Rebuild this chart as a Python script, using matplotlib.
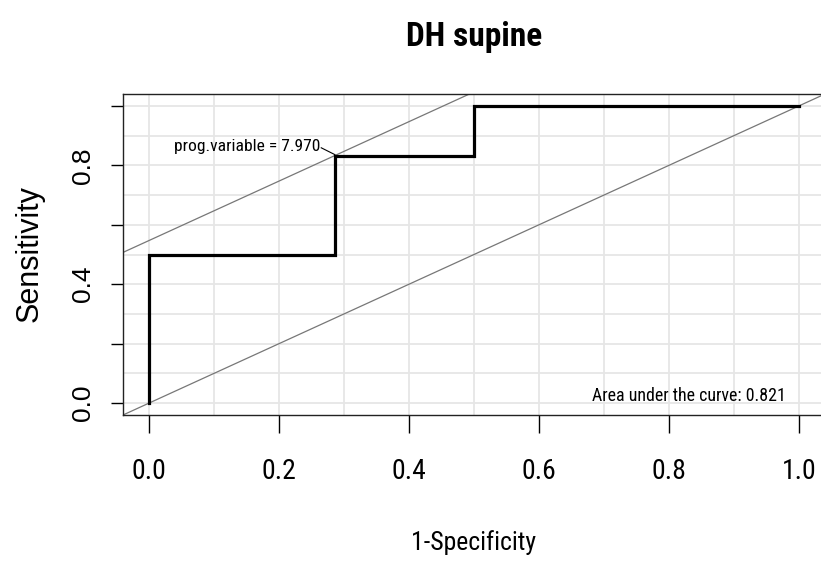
import matplotlib
matplotlib.use("Agg")
import matplotlib.pyplot as plt

# ROC step coordinates (1-specificity, sensitivity)
fpr = [0.0, 0.0, 0.286, 0.286, 0.5, 0.5, 1.0]
tpr = [0.0, 0.5, 0.5, 0.833, 0.833, 1.0, 1.0]
best_fpr = 0.286
best_tpr = 0.833
best_label = "prog.variable = 7.970"
auc_label = "Area under the curve: 0.821"
x_ticks = [0.0, 0.2, 0.4, 0.6, 0.8, 1.0]
x_tick_labels = ["0.0", "0.2", "0.4", "0.6", "0.8", "1.0"]
y_ticks = [0.0, 0.2, 0.4, 0.6, 0.8, 1.0]
y_tick_labels = ["0.0", "", "0.4", "", "0.8", ""]
grid_steps = [i / 10 for i in range(11)]

NARROW = ["Roboto Condensed", "Liberation Sans", "DejaVu Sans"]
NORMAL = ["Liberation Sans", "DejaVu Sans"]

fig = plt.figure(figsize=(8.21, 5.65), dpi=100)
ax = fig.add_axes([123 / 821, 150 / 565, 702 / 821, 321 / 565])
ax.set_xlim(-0.04, 1.04)
ax.set_ylim(-0.04, 1.04)

# light grid every 0.1
for g in grid_steps:
    ax.axvline(g, color="#e6e6e6", lw=1.3, zorder=0)
    ax.axhline(g, color="#e6e6e6", lw=1.3, zorder=0)

# chance diagonal and tangent line through the best threshold
ax.axline((0, 0), slope=1, color="#777777", lw=0.9, zorder=1)
ax.axline((best_fpr, best_tpr), slope=1, color="#777777", lw=0.9, zorder=1)

ax.plot(fpr, tpr, color="black", lw=2.3, solid_joinstyle="miter", zorder=3)

# threshold label with short leader
ax.text(best_fpr - 0.023, best_tpr + 0.032, best_label, ha="right", va="center",
        fontsize=12.6, family=NARROW, zorder=4)
ax.plot([best_fpr - 0.021, best_fpr], [best_tpr + 0.026, best_tpr + 0.003],
        color="black", lw=0.8, zorder=4)

ax.text(0.98, 0.024, auc_label, ha="right", va="center",
        fontsize=12.9, family=NARROW, zorder=4)

for s in ax.spines.values():
    s.set_linewidth(1.0)
    s.set_color("#222222")

ax.set_xticks(x_ticks)
ax.set_xticklabels(x_tick_labels, family=NARROW, fontsize=20)
ax.set_yticks(y_ticks)
ax.set_yticklabels(y_tick_labels, family=NORMAL, fontsize=19, rotation=90, va="center")
ax.tick_params(axis="x", length=13, width=1, pad=18, direction="out")
ax.tick_params(axis="y", length=8.5, width=1, pad=12, direction="out")

fig.text(474 / 821, 1 - 37 / 565, "DH supine", ha="center", va="center",
         fontsize=24, fontweight="bold", family=NARROW)
fig.text(474 / 821, 1 - 543 / 565, "1-Specificity", ha="center", va="center",
         fontsize=18.5, family=NARROW)
fig.text(30 / 821, 1 - 254 / 565, "Sensitivity", ha="center", va="center",
         fontsize=22, family=NORMAL, rotation=90)

fig.savefig("out.png", dpi=100)
